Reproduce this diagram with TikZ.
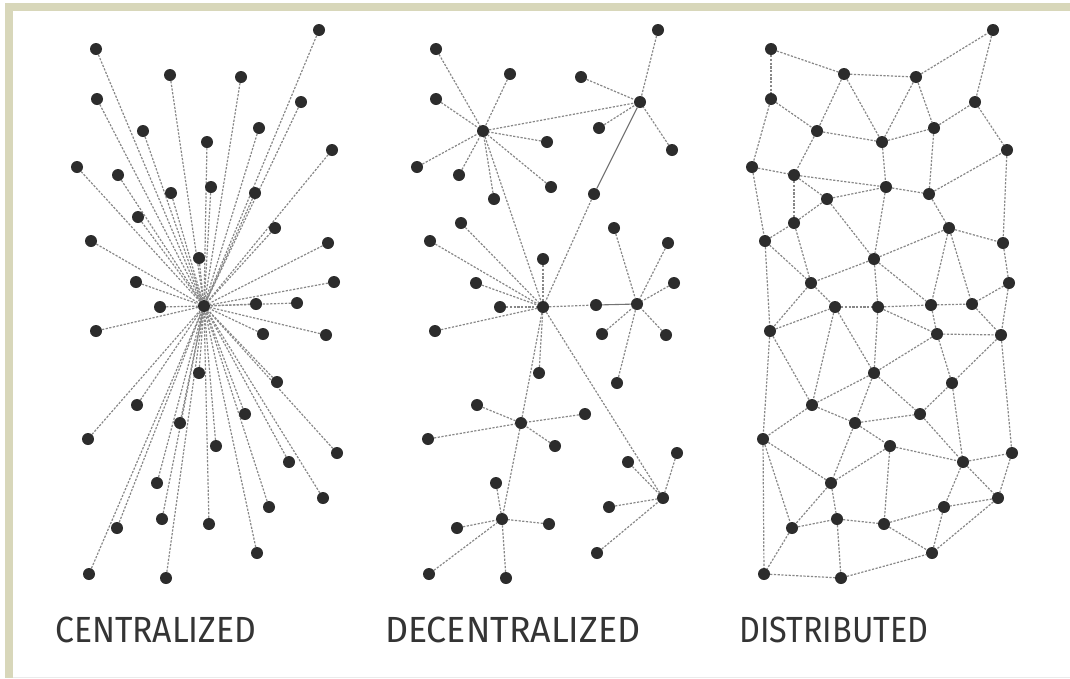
\documentclass[tikz,border=0pt]{standalone}
\usepackage{fontspec}
\newfontfamily\labelfont{Fira Sans}
\definecolor{framec}{RGB}{216,215,186}
\definecolor{dotc}{RGB}{44,44,44}
\definecolor{linkc}{RGB}{135,135,135}
\definecolor{textc}{RGB}{52,52,52}
\pgfdeclarelayer{bg}
\pgfdeclarelayer{edges}
\pgfsetlayers{bg,edges,main}
\begin{document}
\begin{tikzpicture}[x=1pt,y=-1pt,
  dot/.style={circle,fill=dotc,inner sep=0pt,minimum size=12pt},
  link/.style={draw=linkc,line width=1.2pt,dash pattern=on 2.2pt off 1.5pt},
  solidlink/.style={draw=linkc!85!black,line width=1.1pt},
  caption/.style={anchor=south west,inner sep=0pt,text=textc}]
\useasboundingbox (0,0) rectangle (1070,678);
\begin{pgfonlayer}{bg}
  \fill[white] (0,0) rectangle (1070,678);
  \fill[framec] (5,3) rectangle (1070,11);
  \fill[framec] (5,3) rectangle (13,678);
  \fill[black!8] (13,676.5) rectangle (1070,677.5);
\end{pgfonlayer}

% ---------------- centralized: every node tied to one hub
\node[dot] (cc) at (204,306) {};
\foreach \x/\y [count=\i] in {
  319/30, 96/49, 170/75, 241/77, 97/99, 301/102, 143/131, 259/128,
  207/142, 332/150, 77/167, 118/175, 171/193, 211/187, 255/193, 138/217,
  275/228, 91/241, 328/243, 199/258, 136/282, 334/282,
  160/307, 256/304, 297/303, 96/331, 263/334, 326/335, 199/373, 277/382,
  137/405, 245/414, 180/423, 88/439, 216/446, 337/453, 289/462, 157/483,
  323/498, 269/507, 162/519, 209/524, 117/528, 257/553, 89/574, 166/578}
{
  \node[dot] (c\i) at (\x,\y) {};
  \begin{pgfonlayer}{edges}\draw[link] (c\i) -- (cc);\end{pgfonlayer}
}

% ---------------- decentralized: several hubs, each with its own leaves
\node[dot] (h1) at (483,131) {};
\node[dot] (h2) at (640,102) {};
\node[dot] (hc) at (543,307) {};
\node[dot] (h3) at (637,304) {};
\node[dot] (h4) at (521,423) {};
\node[dot] (h5) at (663,498) {};
\node[dot] (h6) at (502,519) {};
\node[dot] (r1) at (594,194) {};
\node[dot] (r2) at (596,305) {};
\begin{pgfonlayer}{edges}
  \draw[link] (h1) -- (h2);
  \draw[link] (h1) -- (hc);
  \draw[solidlink] (h2) -- (r1);
  \draw[link] (r1) -- (hc);
  \draw[link] (hc) -- (r2);
  \draw[solidlink] (r2) -- (h3);
  \draw[link] (hc) -- (h4);
  \draw[link] (h4) -- (h6);
  \draw[link] (hc) -- (h5);
\end{pgfonlayer}
\foreach \hub/\pts [count=\k] in {
  h1/{436/49, 510/74, 436/99, 547/142, 417/167, 459/175, 551/187, 494/199},
  h2/{658/30, 581/77, 599/128, 672/150},
  hc/{461/223, 430/241, 543/259, 476/283, 500/307, 435/331, 539/373},
  h3/{614/228, 668/243, 674/283, 602/334, 666/335, 617/383},
  h4/{477/405, 585/414, 428/439, 555/446},
  h5/{677/453, 628/462, 609/507, 597/553},
  h6/{496/483, 457/528, 549/524, 429/574, 506/578}}
{
  \foreach \x/\y [count=\i] in \pts {
    \node[dot] (g\k-\i) at (\x,\y) {};
    \begin{pgfonlayer}{edges}\draw[link] (g\k-\i) -- (\hub);\end{pgfonlayer}
  }
}

% ---------------- distributed: a mesh
\foreach \x/\y [count=\i] in {
  993/30, 771/49, 844/74, 916/77, 771/99, 975/102, 817/131, 934/128,
  882/142, 1007/150, 752/167, 794/175, 886/187, 929/194, 827/199, 949/228,
  794/223, 765/241, 1003/243, 874/259, 811/283, 1009/283}
{ \node[dot] (d\i) at (\x,\y) {}; }
\foreach \x/\y [count=\i] in {
  835/307, 878/307, 931/305, 972/304, 770/331, 937/334, 1001/335, 874/373,
  952/383, 812/405, 920/414, 855/423, 763/439, 890/446, 1012/453, 963/462,
  831/483, 998/498, 944/507, 837/519, 884/524, 792/528, 932/553, 764/574,
  841/578}
{ \node[dot] (e\i) at (\x,\y) {}; }
\begin{pgfonlayer}{edges}
\foreach \a/\b in {
  d2/d3, d3/d4, d4/d1, d1/d6, d2/d5, d5/d7, d3/d7, d3/d9, d4/d9, d4/d8,
  d8/d6, d7/d9, d9/d8, d6/d10, d5/d11, d7/d12, d11/d12, d12/d13, d9/d13,
  d8/d14, d13/d14, d14/d10, d12/d15, d15/d13, d12/d17, d17/d15, d10/d19,
  d11/d18, d18/d17, d17/d21, d18/d21, d15/d20, d13/d20, d14/d16, d16/d20,
  d16/d19, d19/d22, d20/d21,
  d18/e5, d21/e5, d21/e1, d20/e2, d20/e3, d16/e3, d16/e4, d22/e4, d22/e7,
  e1/e2, e2/e3, e3/e4, e5/e1, e5/e10, e5/e13, e1/e10, e1/e8, e2/e8, e2/e6,
  e3/e6, e4/e7, e6/e7, e6/e8, e6/e9, e7/e9, e8/e10, e8/e11, e8/e12,
  e10/e12, e10/e13, e12/e11, e9/e11, e9/e16, e7/e15, e11/e16, e12/e14,
  e12/e17, e13/e17, e14/e17, e14/e16, e14/e21, e16/e15, e16/e18, e16/e19,
  e15/e18, e13/e22, e13/e24, e17/e22, e17/e20, e22/e20, e20/e21, e20/e25,
  e21/e19, e21/e23, e19/e23, e18/e23, e18/e19, e22/e24, e24/e25, e25/e23}
{ \draw[link] (\a) -- (\b); }
\end{pgfonlayer}

% ---------------- captions
\node[caption] (lc) at (55,643) {\resizebox{201pt}{25.5pt}{\labelfont CENTRALIZED}};
\node[caption] (ld) at (385,643) {\resizebox{255pt}{25.5pt}{\labelfont DECENTRALIZED}};
\node[caption] (lr) at (739,643) {\resizebox{189pt}{25.5pt}{\labelfont DISTRIBUTED}};
\end{tikzpicture}
\end{document}
